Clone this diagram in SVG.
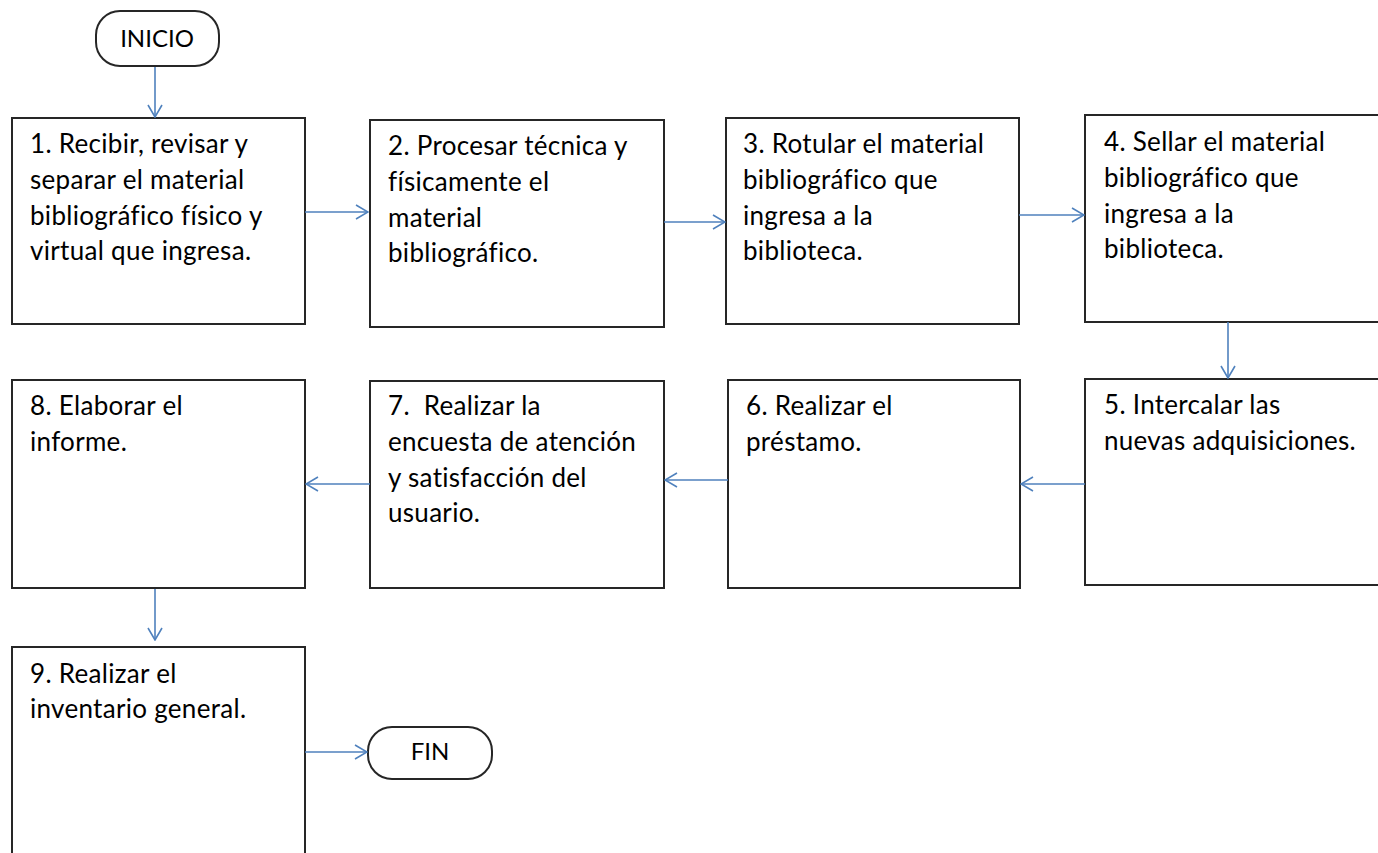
<svg xmlns="http://www.w3.org/2000/svg" width="1378" height="853" viewBox="0 0 1378 853">
<defs>
<marker id="ah" markerWidth="14" markerHeight="16" refX="13" refY="8" orient="auto" markerUnits="userSpaceOnUse">
<path d="M1,1 L13,8 L1,15" fill="none" stroke="#4f81bd" stroke-width="1.6"/>
</marker>
<style>
.box{fill:#fff;stroke:#262626;stroke-width:2}
.t{font-family:Lato,"Open Sans",sans-serif;font-size:26px;letter-spacing:0.3px;fill:#000}
.s{font-size:24px;letter-spacing:0}
.c{text-anchor:middle}
.ln{stroke:#4f81bd;stroke-width:1.6;fill:none;marker-end:url(#ah)}
</style>
</defs>
<rect width="1378" height="853" fill="#fff"/>
<g id="inicio"><rect class="box" x="96" y="11" width="123" height="55" rx="24"/><text class="t s c" x="157" y="47">INICIO</text></g>
<g id="n1"><rect class="box" x="12" y="118" width="293" height="206"/>
<text class="t" x="30" y="153">1. Recibir, revisar y</text><text class="t" x="30" y="189">separar el material</text><text class="t" x="30" y="225">bibliográfico físico y</text><text class="t" x="30" y="260">virtual que ingresa.</text></g>
<g id="n2"><rect class="box" x="370" y="120" width="294" height="207"/>
<text class="t" x="388" y="155">2. Procesar técnica y</text><text class="t" x="388" y="191">físicamente el</text><text class="t" x="388" y="227">material</text><text class="t" x="388" y="262">bibliográfico.</text></g>
<g id="n3"><rect class="box" x="726" y="118" width="293" height="206"/>
<text class="t" x="743" y="153">3. Rotular el material</text><text class="t" x="743" y="189">bibliográfico que</text><text class="t" x="743" y="225">ingresa a la</text><text class="t" x="743" y="260">biblioteca.</text></g>
<g id="n4"><rect class="box" x="1085" y="115" width="300" height="207"/>
<text class="t" x="1104" y="151">4. Sellar el material</text><text class="t" x="1104" y="187">bibliográfico que</text><text class="t" x="1104" y="223">ingresa a la</text><text class="t" x="1104" y="258">biblioteca.</text></g>
<g id="n5"><rect class="box" x="1085" y="379" width="300" height="206"/>
<text class="t" x="1104" y="414">5. Intercalar las</text><text class="t" x="1104" y="450">nuevas adquisiciones.</text></g>
<g id="n6"><rect class="box" x="728" y="380" width="292" height="208"/>
<text class="t" x="746" y="415">6. Realizar el</text><text class="t" x="746" y="451">préstamo.</text></g>
<g id="n7"><rect class="box" x="370" y="381" width="294" height="207"/>
<text class="t" x="388" y="415" xml:space="preserve">7.  Realizar la</text><text class="t" x="388" y="451">encuesta de atención</text><text class="t" x="388" y="487">y satisfacción del</text><text class="t" x="388" y="522">usuario.</text></g>
<g id="n8"><rect class="box" x="12" y="380" width="293" height="208"/>
<text class="t" x="30" y="415">8. Elaborar el</text><text class="t" x="30" y="451">informe.</text></g>
<g id="n9"><rect class="box" x="12" y="647" width="293" height="220"/>
<text class="t" x="30" y="683">9. Realizar el</text><text class="t" x="30" y="718">inventario general.</text></g>
<g id="fin"><rect class="box" x="368" y="727" width="124" height="52" rx="24"/><text class="t s c" x="430" y="760">FIN</text></g>
<g id="connectors">
<line class="ln" x1="155" y1="67" x2="155" y2="117"/>
<line class="ln" x1="305" y1="212" x2="368" y2="212"/>
<line class="ln" x1="664" y1="222" x2="725" y2="222"/>
<line class="ln" x1="1019" y1="215" x2="1084" y2="215"/>
<line class="ln" x1="1228" y1="322" x2="1228" y2="378"/>
<line class="ln" x1="1085" y1="484" x2="1021" y2="484"/>
<line class="ln" x1="728" y1="480" x2="665" y2="480"/>
<line class="ln" x1="370" y1="484" x2="306" y2="484"/>
<line class="ln" x1="155" y1="589" x2="155" y2="640"/>
<line class="ln" x1="305" y1="752" x2="367" y2="752"/>
</g>
</svg>
